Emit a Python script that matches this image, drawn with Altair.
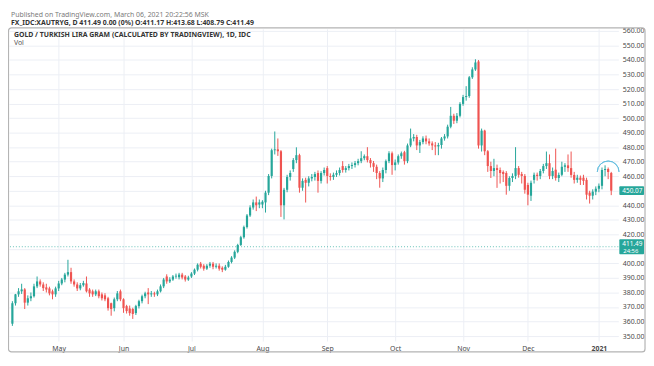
import altair as alt
import pandas as pd

# ---- candle data (one bar per trading day) ----
opens = [358.5, 372.6, 378.7, 380.8, 382.1, 373, 376, 377.4, 384.2, 387.6,
         385.5, 383.5, 382.8, 380.8, 378.7, 382.8, 386.2, 388.9, 392.3, 394,
         387.6, 385.5, 382.8, 385, 386.2, 382, 380.8, 378.7, 380.8, 378.7,
         378, 376, 372.6, 369.2, 375.3, 380.8, 375.3, 370.6, 369, 368.6,
         365.8, 370.6, 374, 377.4, 380, 378.7, 379.4, 378.7, 380.8, 384.2,
         391, 387.6, 388.9, 391, 390.5, 392.3, 391, 388.9, 391, 393,
         395.7, 399.8, 398.4, 396.4, 398.4, 399.8, 397.7, 398.4, 397, 395.7,
         397.7, 401, 404, 408, 412.7, 418, 425, 433, 438.5, 442,
         440.5, 440.5, 442, 448.7, 460.2, 477.9, 478.5, 477.2, 440, 450.7,
         459.5, 465, 471.1, 474.5, 452.1, 457.5, 455.5, 458.5, 459.5, 462.2,
         456.8, 462.2, 465.6, 460.2, 459.5, 461, 462.2, 467, 464.3, 465.6,
         467, 467.7, 469, 470.4, 472.4, 473.8, 471.1, 469, 466.5, 462.2,
         458.5, 464.3, 470.4, 475.8, 467.7, 469.5, 473.8, 476.5, 470.4, 481.2,
         486, 487, 481.2, 483.5, 486, 484, 482.6, 481.2, 480.5, 481.5,
         486, 487.4, 494.1, 501.6, 498.2, 501.6, 509.8, 514.5, 515.2, 528.1,
         533.5, 539, 481.2, 491.4, 477.2, 467, 463.6, 465.6, 464.3, 462.9,
         462.2, 453.4, 458.8, 460.2, 465.6, 461.5, 460.2, 454, 446.6, 457.5,
         461, 460.2, 463.6, 467, 469, 460.2, 464.5, 458.8, 461, 466.5,
         467.5, 465.6, 460.9, 457.5, 459, 459, 457.5, 448.7, 446.6, 449.4,
         451.4, 453.4, 464.3, 465, 462.2]
highs = [374, 379, 383, 386, 383, 378, 380, 386, 391, 389,
         387, 386, 384, 382, 384, 388, 390, 393.5, 402.5, 397,
         389, 387, 386.5, 388, 391, 383, 382, 382, 382, 380,
         379.5, 377, 373, 376.5, 381, 382, 376, 371.5, 371, 369.5,
         371.5, 375, 378.5, 380.5, 383, 381, 380.5, 382, 385.5, 390,
         392.5, 390.5, 392, 393, 393.5, 393.5, 392, 391.5, 394, 396.5,
         400, 401, 399.5, 399.5, 401, 401, 400, 400, 398, 399,
         402, 405, 409, 413.5, 419, 426, 434, 440, 444, 446,
         444, 443.5, 450, 461.5, 479, 490.8, 486, 478, 452, 461,
         464, 472.5, 479.9, 475.5, 458.5, 459, 460, 461.5, 463, 464,
         463.5, 466, 467, 462, 462.5, 464, 466, 470.4, 467, 468.5,
         469.5, 470.5, 472, 477.2, 475, 480, 472.5, 470.5, 468, 463.5,
         466, 471.5, 477.2, 477, 471.5, 475, 477, 477.5, 482.5, 492.8,
         489, 488.5, 485, 487.5, 488, 486, 484, 483.5, 483, 487,
         489, 495.5, 507.7, 503, 503.5, 511, 516, 522, 529, 535,
         540.5, 540, 492.8, 492, 478, 470, 472, 468, 466, 464,
         463.5, 460, 462, 480, 467, 463, 461.5, 455.5, 457, 462.5,
         462.5, 465, 468.5, 477, 475, 466, 479, 462.5, 470, 469,
         475, 477, 463, 461, 460.5, 461, 459, 450, 451, 453,
         455, 466, 467.5, 466, 463]
lows = [357, 371, 377, 379, 368.6, 371, 374, 376.5, 383, 384,
        381, 380, 378, 375.3, 377, 381, 385, 387, 391, 386,
        384, 381, 381.5, 384, 380, 377, 377, 377.5, 376, 374.5,
        374, 367.5, 364, 367, 374, 374, 366, 365.5, 364, 361.8,
        364.5, 369, 372.5, 376, 372, 377, 377, 377.5, 380, 383,
        386, 386.5, 388, 389.5, 389, 389, 387.5, 388, 390, 392,
        394.5, 396.5, 395, 395.5, 397, 396, 396.5, 395, 394, 395,
        397, 400, 403, 407, 412, 417, 424, 432, 437, 436,
        438, 438, 435, 447, 458.5, 475, 474, 432, 430.3, 449,
        457, 463, 469, 448.7, 450, 441.9, 453, 456.5, 457, 448.7,
        455, 460.5, 455, 457, 457.5, 459.5, 460.5, 462.5, 462.5, 464,
        465, 466, 467.5, 469, 471, 469.5, 466, 463, 458, 452.1,
        456, 462, 469, 461, 464, 468, 472, 468, 469, 480,
        484, 478, 476, 482, 482, 481, 478, 474.5, 474.5, 479,
        484.5, 486, 493, 496, 496.5, 500.5, 508.5, 512, 514, 527,
        532.5, 479, 477, 474.5, 463, 458.8, 460, 452, 455, 456,
        447.3, 450, 456, 458, 459, 455, 448, 440, 443, 455,
        457, 458, 462, 465, 458, 458, 457, 456, 460, 463,
        463, 459, 455, 455.5, 454, 454, 444, 441.2, 444, 447,
        449, 451, 460, 458, 447]
closes = [372.6, 378.7, 380.8, 382.1, 373, 376, 377.4, 384.2, 387.6, 385.5,
          383, 382, 379.4, 378.7, 382.8, 386.2, 388.9, 392.3, 394, 387.6,
          385.5, 382.8, 385, 386.5, 380.8, 379.4, 378.7, 380.8, 377.4, 376,
          375.3, 369.2, 368.6, 375.3, 379.4, 375.3, 369.2, 367.2, 365.8, 365.2,
          370.6, 374, 377.4, 379.4, 378.7, 379.4, 378.7, 380.8, 384.2, 388.9,
          387.6, 388.9, 391, 391.5, 392.3, 390.3, 388.9, 390.3, 393, 395.7,
          399.1, 397.7, 396.4, 398.4, 399.8, 397.7, 398.4, 396.4, 395.7, 397.7,
          401, 404, 408, 412.7, 418, 425, 433, 438.5, 442, 440,
          442, 442.5, 448.7, 460.2, 477.9, 478.5, 477.2, 440, 450.7, 459.5,
          462.2, 471.1, 474.5, 452.1, 456.8, 455.5, 458.5, 459.5, 461.5, 456.8,
          462.2, 464.3, 460.2, 459.5, 461, 462.2, 464.3, 464.3, 465.6, 467,
          467.7, 469, 470.4, 472.4, 473.8, 471.1, 469, 466.5, 462.2, 458.5,
          464.3, 470.4, 475.8, 467.7, 469.5, 473.8, 475.8, 470.4, 481.2, 486,
          487, 481.2, 483.5, 486, 484, 482.6, 481.2, 480.5, 481.5, 486,
          487.4, 494.1, 501.6, 498.2, 501.6, 509.8, 514.5, 515.2, 528.1, 533.5,
          538.3, 481.2, 491.4, 477.2, 467, 463.6, 465.6, 464.3, 462.2, 461.5,
          453.4, 458.8, 460.2, 465.6, 461, 460.2, 450.7, 447.3, 455.5, 461,
          460.2, 463.6, 467, 469, 460.2, 463.6, 458.8, 460.9, 466.5, 467.5,
          465.6, 460.9, 457.5, 459, 457.5, 456.8, 447.3, 446.6, 449.4, 451.4,
          453.4, 464.3, 465, 462.9, 450.07]

# axis labels
month_ticks = [15, 36, 58, 81, 102, 124, 146, 167, 190]
month_names = ["May", "Jun", "Jul", "Aug", "Sep", "Oct", "Nov", "Dec", "2021"]
price_ticks = list(range(350, 561, 10))
hidden_price_labels = [410, 450]   # covered by the price boxes in the reference

# annotations
current_price = [411.49]
current_label = ["411.49"]
countdown = ["24:56"]
last_close = [450.07]
last_label = ["450.07"]
arc_bar = [193]
arc_price = [463.0]

header1 = "Published on TradingView.com, March 06, 2021 20:22:56 MSK"
header2 = "FX_IDC:XAUTRYG, D  411.49 0.00 (0%)  O:411.17 H:413.68 L:408.79 C:411.49"
title_in = "GOLD / TURKISH LIRA GRAM (CALCULATED BY TRADINGVIEW), 1D, IDC"
vol_txt = "Vol"

# ---- layout ----
W, H = 617, 316
YMIN, YMAX = 346.6, 561.4
XMIN, XMAX = -1.1, 196.3
FONT = "Noto Sans"
UP, DOWN = "#26a69a", "#ef5350"
GRID = "#eceff5"

df = pd.DataFrame({"i": list(range(len(closes))), "open": opens, "high": highs,
                   "low": lows, "close": closes})
df["dir"] = ["up" if c >= o else "down" for o, c in zip(opens, closes)]

xs = alt.Scale(domain=[XMIN, XMAX], nice=False, zero=False, padding=0)
ys = alt.Scale(domain=[YMIN, YMAX], nice=False, zero=False, padding=0)
col = alt.Color("dir:N", scale=alt.Scale(domain=["up", "down"], range=[UP, DOWN]), legend=None)

lab_expr = ("[" + ",".join("'%s'" % n for n in month_names) + "][indexof(["
            + ",".join(str(t) for t in month_ticks) + "], datum.value)]")
year_tick = month_ticks[month_names.index("2021")]
ylab_expr = ("indexof([" + ",".join(str(v) for v in hidden_price_labels)
             + "], datum.value) >= 0 ? '' : format(datum.value, '.2f')")

x_axis = alt.Axis(values=month_ticks, labelExpr=lab_expr, grid=True, gridColor=GRID,
                  ticks=False, domain=False, labelFontSize=7, labelColor="#4a4a4a",
                  labelFont=FONT, labelPadding=4, title=None, labelFlush=False,
                  labelOverlap=False, tickCount=len(month_ticks) + 5,
                  labelFontWeight=alt.ExprRef(expr="datum.value == %d ? 'bold' : 'normal'" % year_tick))
y_axis = alt.Axis(orient="right", values=price_ticks, labelExpr=ylab_expr, grid=True,
                  gridColor=GRID, ticks=False, domain=False, labelFontSize=7,
                  labelColor="#4a4a4a", labelFont=FONT, labelPadding=4, title=None,
                  labelOverlap=False, tickCount=len(price_ticks) + 5)

base = alt.Chart(df)
wicks = base.mark_rule(strokeWidth=1).encode(
    x=alt.X("i:Q", scale=xs, axis=x_axis),
    y=alt.Y("low:Q", scale=ys, axis=y_axis),
    y2="high:Q", color=col)
bodies = base.mark_bar(width=2.2).encode(
    x=alt.X("i:Q", scale=xs),
    y=alt.Y("open:Q", scale=ys),
    y2="close:Q", color=col)

# current price line
pl_df = pd.DataFrame({"p": current_price})
price_line = alt.Chart(pl_df).mark_rule(color=UP, strokeDash=[1, 2], strokeWidth=1, opacity=0.7).encode(
    y=alt.Y("p:Q", scale=ys))

unit = (YMAX - YMIN) / H
box1 = pd.DataFrame({"lo": [current_price[0] - 7.5 * unit], "hi": [current_price[0] + 7.5 * unit],
                     "p": current_price, "t": current_label, "c": countdown})
box2 = pd.DataFrame({"lo": [last_close[0] - 4.5 * unit], "hi": [last_close[0] + 4.5 * unit],
                     "p": last_close, "t": last_label, "c": [""]})
boxes = alt.Chart(pd.concat([box1, box2])).mark_rect(color=UP, cornerRadius=1).encode(
    x=alt.value(W + 1), x2=alt.value(W + 26),
    y=alt.Y("lo:Q", scale=ys), y2="hi:Q")
box_text1 = alt.Chart(box1).mark_text(color="white", fontSize=6.5, font=FONT, align="left", baseline="middle", dy=-3).encode(
    x=alt.value(W + 4), y=alt.Y("p:Q", scale=ys), text="t:N")
box_text1b = alt.Chart(box1).mark_text(color="white", fontSize=6, font=FONT, align="left", baseline="middle", dy=4).encode(
    x=alt.value(W + 5), y=alt.Y("p:Q", scale=ys), text="c:N")
box_text2 = alt.Chart(box2).mark_text(color="white", fontSize=6.5, font=FONT, align="left", baseline="middle").encode(
    x=alt.value(W + 4), y=alt.Y("p:Q", scale=ys), text="t:N")

# arc drawing
arc_df = pd.DataFrame({"i": arc_bar, "p": arc_price})
arc = alt.Chart(arc_df).mark_arc(radius=11, radius2=11, theta=4.712, theta2=7.854,
                                 stroke="#67bfe0", strokeWidth=1, fill="transparent").encode(
    x=alt.X("i:Q", scale=xs), y=alt.Y("p:Q", scale=ys))

# frame + header texts
one = pd.DataFrame({"k": [0]})
frame = alt.Chart(one).mark_rect(fill="transparent", stroke="#b4b4b4", strokeWidth=1.2, cornerRadius=3).encode(
    x=alt.value(-0.5), x2=alt.value(W + 27), y=alt.value(-1), y2=alt.value(H + 11))

def txt(s, x, y, color, weight, size=7):
    return alt.Chart(one).mark_text(text=s, align="left", baseline="alphabetic", font=FONT,
                                    fontSize=size, fontWeight=weight, color=color).encode(
        x=alt.value(x), y=alt.value(y))

texts = [txt(header1, 2, -12, "#7a7a7a", "normal"),
         txt(header2, 2, -4, "#333333", "bold"),
         txt(title_in, 5, 8, "#333333", "bold"),
         txt(vol_txt, 5, 16, "#555555", "normal")]

chart = alt.layer(wicks, frame, price_line, bodies, arc, boxes, box_text1, box_text1b, box_text2, *texts).properties(
    width=W, height=H,
    padding={"left": 1, "top": 19, "right": 28, "bottom": 12},
    autosize=alt.AutoSizeParams(type="none"),
    background="white",
).configure_view(stroke=None)

chart.save("out.html", embed_options={"renderer": "svg", "actions": False})
